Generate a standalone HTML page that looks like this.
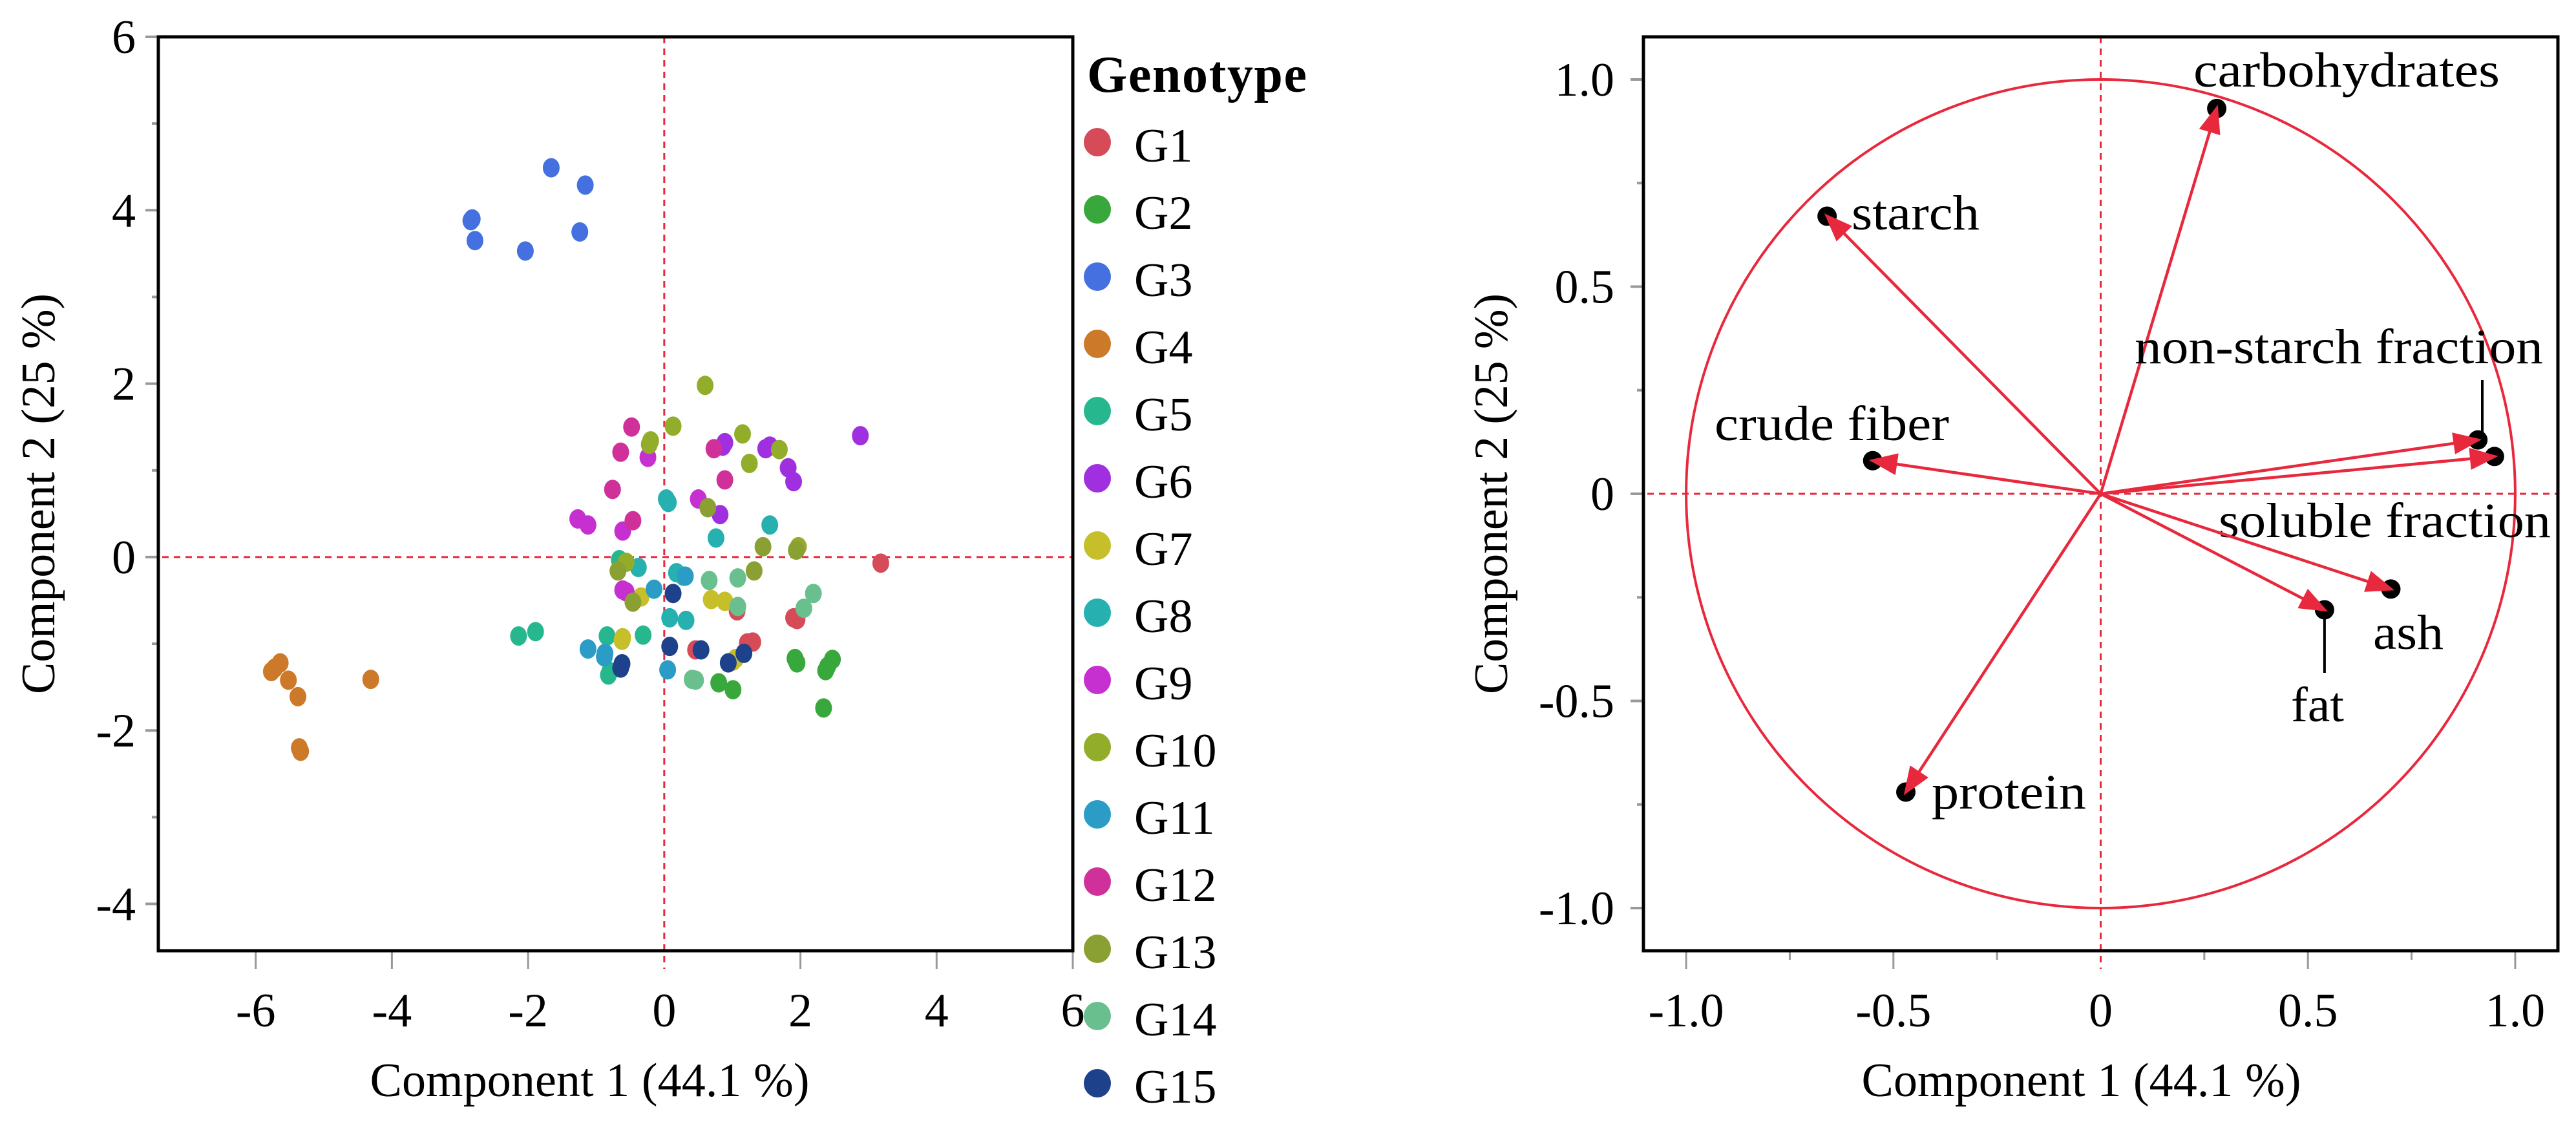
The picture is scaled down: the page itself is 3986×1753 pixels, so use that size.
<!DOCTYPE html>
<html><head><meta charset="utf-8"><style>
html,body{margin:0;padding:0;background:#fff}
svg{display:block}
text{font-family:"Liberation Serif",serif;fill:#000}
</style></head><body>
<svg id="fig" width="3986" height="1753" viewBox="0 0 3986 1753" xmlns="http://www.w3.org/2000/svg">
<g id="left"></g>
<g id="right"></g>
</svg>
<script>
const NS="http://www.w3.org/2000/svg";
// ---- Score plot data ----
const genotypes=["G1","G2","G3","G4","G5","G6","G7","G8","G9","G10","G11","G12","G13","G14","G15"];
const genoColors=["#d64b58","#38a83c","#4470e0","#cc7a2a","#27b78f","#a02fe0","#c6bf2a","#27b0b0","#c630d0","#92ad2a","#2a9cc6","#d0309a","#8aa032","#69c08e","#1d418a"];
const scoreX=[
[3.18,1.90,1.95,1.22,1.30,0.46,1.07],
[1.92,2.37,2.47,2.34,0.80,1.01,1.95,2.40],
[-2.84,-2.78,-2.04,-1.66,-1.16,-1.24,-2.82],
[-5.77,-5.64,-5.52,-5.38,-5.34,-4.31,-5.72,-5.36],
[-2.14,-1.89,-0.84,-0.31,-0.82,-0.66,-0.80],
[2.88,1.82,1.90,0.89,1.49,1.55,0.82,0.86],
[-0.61,-0.34,0.69,0.89,1.01,-0.62,1.05],
[0.03,1.55,0.76,0.08,0.32,-0.38,0.18,0.06,0.28],
[-1.27,-1.12,-0.61,-0.61,-0.24,0.50,-0.56],
[0.60,0.13,-0.20,1.15,1.69,1.25,1.97,-0.56,-0.22],
[-1.12,-0.87,-0.15,0.31,0.05,-0.88],
[-0.48,-0.64,-0.76,-0.46,0.73,0.89],
[-0.68,-0.46,0.64,1.45,1.32,1.94],
[0.66,1.08,1.08,2.19,2.05,0.41,0.46],
[0.13,0.08,-0.64,0.54,1.17,0.94,-0.62]];
const scoreY=[
[-0.07,-0.70,-0.72,-0.99,-0.98,-1.07,-0.62],
[-1.17,-1.31,-1.18,-1.74,-1.45,-1.53,-1.22,-1.26],
[3.88,3.65,3.53,4.49,4.29,3.75,3.90],
[-1.32,-1.22,-1.42,-1.61,-2.24,-1.41,-1.28,-2.20],
[-0.91,-0.86,-0.91,-0.90,-1.36,-0.03,-1.32],
[1.40,1.03,0.87,1.32,1.25,1.28,0.49,1.28],
[-0.93,-0.46,-0.49,-0.51,-1.20,-0.96,-1.17],
[0.67,0.37,0.22,-0.70,-0.73,-0.12,-0.18,0.63,-0.22],
[0.44,0.37,0.30,-0.38,1.15,0.67,-0.40],
[1.98,1.51,1.34,1.42,1.24,1.08,0.12,-0.06,1.30],
[-1.06,-1.11,-0.37,-0.22,-1.30,-1.15],
[1.50,1.21,0.78,0.42,1.25,0.89],
[-0.16,-0.52,0.57,0.12,-0.16,0.08],
[-0.27,-0.24,-0.57,-0.42,-0.59,-1.41,-1.42],
[-0.42,-1.03,-1.28,-1.07,-1.11,-1.22,-1.23]];
const leftXTicks=[-6,-4,-2,0,2,4,6];
const leftYTicks=[-4,-2,0,2,4,6];
const leftYMinor=[-3,-1,1,3,5];
// ---- Loading plot data ----
const varNames=["carbohydrates","starch","non-starch fraction","crude fiber","soluble fraction","ash","fat","protein"];
const loadX=[0.28,-0.66,0.91,-0.55,0.95,0.70,0.54,-0.47];
const loadY=[0.93,0.67,0.13,0.08,0.09,-0.23,-0.28,-0.72];
const rightTicks=[-1.0,-0.5,0,0.5,1.0];
const rightTickLabels=["-1.0","-0.5","0","0.5","1.0"];
const rightMinor=[-0.75,-0.25,0.25,0.75];

function el(tag,attrs,parent,txt){const e=document.createElementNS(NS,tag);for(const k in attrs)e.setAttribute(k,attrs[k]);if(txt!==undefined)e.textContent=txt;parent.appendChild(e);return e;}
const FS=74;

// ===== LEFT =====
const L=document.getElementById('left');
const LB={x0:245,x1:1660,y0:57,y1:1471},LX=[-7.43,6.0],LY=[-4.54,6.0];
const lx=v=>LB.x0+(v-LX[0])/(LX[1]-LX[0])*(LB.x1-LB.x0);
const ly=v=>LB.y1-(v-LY[0])/(LY[1]-LY[0])*(LB.y1-LB.y0);
let r;
r=el('line',{x1:lx(0),x2:lx(0),y1:LB.y0,y2:LB.y1+28,stroke:'#e8283c','stroke-width':3,'stroke-dasharray':'10 8'},L);

r=el('line',{x1:LB.x0-12,x2:LB.x1,y1:ly(0),y2:ly(0),stroke:'#e8283c','stroke-width':3,'stroke-dasharray':'10 8'},L);

leftXTicks.forEach(t=>{
  if(t!==0){const tk=el('line',{x1:lx(t),x2:lx(t),y1:LB.y1,y2:LB.y1+28,stroke:'#999','stroke-width':3},L);
  }
  const tl=el('text',{x:lx(t),y:1588,'text-anchor':'middle','font-size':FS},L,String(t));
  
});
leftYTicks.forEach(t=>{
  const tk=el('line',{x1:LB.x0-20,x2:LB.x0,y1:ly(t),y2:ly(t),stroke:'#999','stroke-width':4},L);
  
  const tl=el('text',{x:210,y:ly(t)+25,'text-anchor':'end','font-size':FS},L,String(t));
  
});
leftYMinor.forEach(t=>{
  const tk=el('line',{x1:LB.x0-10,x2:LB.x0,y1:ly(t),y2:ly(t),stroke:'#999','stroke-width':4},L);
  
});
genotypes.forEach((g,i)=>{
  const grp=el('g',{},L);
  
  scoreX[i].forEach((xv,j)=>{
    const p=el('ellipse',{cx:lx(xv),cy:ly(scoreY[i][j]),rx:13,ry:15,fill:genoColors[i]},grp);
    
  });
});
r=el('rect',{x:LB.x0,y:LB.y0,width:LB.x1-LB.x0,height:LB.y1-LB.y0,fill:'none',stroke:'#000','stroke-width':5},L);

r=el('text',{x:(LB.x0+LB.x1)/2-40,y:1696,'text-anchor':'middle','font-size':FS,textLength:680},L,'Component 1  (44.1 %)');

r=el('text',{x:0,y:0,'text-anchor':'middle','font-size':FS,textLength:620,transform:'translate(84,764) rotate(-90)'},L,'Component 2  (25 %)');

r=el('text',{x:1682,y:142,'font-size':80,'font-weight':'bold',textLength:340},L,'Genotype');

genotypes.forEach((g,i)=>{
  const yy=220+i*104;
  const eg=el('g',{},L);
  
  const c=el('ellipse',{cx:1698,cy:yy,rx:21,ry:22,fill:genoColors[i]},eg);
  
  const t=el('text',{x:1755,y:yy+30,'font-size':FS},eg,g);
  
});

// ===== RIGHT =====
const R=document.getElementById('right');
const RB={x0:2543,x1:3958,y0:57,y1:1471},RD=[-1.103,1.103];
const rx=v=>RB.x0+(v-RD[0])/(RD[1]-RD[0])*(RB.x1-RB.x0);
const ry=v=>RB.y1-(v-RD[0])/(RD[1]-RD[0])*(RB.y1-RB.y0);
r=el('line',{x1:rx(0),x2:rx(0),y1:RB.y0,y2:RB.y1+28,stroke:'#e8283c','stroke-width':3,'stroke-dasharray':'10 8'},R);

r=el('line',{x1:RB.x0-12,x2:RB.x1,y1:ry(0),y2:ry(0),stroke:'#e8283c','stroke-width':3,'stroke-dasharray':'10 8'},R);

rightTicks.forEach((t,i)=>{
  if(t!==0){const tk=el('line',{x1:rx(t),x2:rx(t),y1:RB.y1,y2:RB.y1+28,stroke:'#999','stroke-width':3},R);
  }
  const tl=el('text',{x:rx(t),y:1588,'text-anchor':'middle','font-size':FS},R,rightTickLabels[i]);
  
  const tk2=el('line',{x1:RB.x0-20,x2:RB.x0,y1:ry(t),y2:ry(t),stroke:'#999','stroke-width':4},R);
  
  const tl2=el('text',{x:2498,y:ry(t)+25,'text-anchor':'end','font-size':FS},R,rightTickLabels[i]);
  
});
rightMinor.forEach(t=>{
  const a=el('line',{x1:rx(t),x2:rx(t),y1:RB.y1,y2:RB.y1+14,stroke:'#999','stroke-width':3},R);
  
  const b=el('line',{x1:RB.x0-10,x2:RB.x0,y1:ry(t),y2:ry(t),stroke:'#999','stroke-width':4},R);
  
});
r=el('ellipse',{cx:rx(0),cy:ry(0),rx:rx(1)-rx(0),ry:ry(0)-ry(1),fill:'none',stroke:'#e8283c','stroke-width':4},R);

const labelPos=[[3394,134],[2865,355],[3303,562],[2653,681],[3433,831],[3672,1004],[3545,1116],[2989,1251]];
const labelLen=[474,198,632,363,514,109,82,239];
varNames.forEach((n,i)=>{
  const g=el('g',{},R);
  
  const x0=rx(0),y0=ry(0),x1=rx(loadX[i]),y1=ry(loadY[i]);
  const dx=x1-x0,dy=y1-y0,len=Math.hypot(dx,dy),ux=dx/len,uy=dy/len;
  const dot=el('circle',{cx:x1,cy:y1,r:15,fill:'#000'},g);
  
  const tipx=x1+ux*6,tipy=y1+uy*6,bx=tipx-ux*44,by=tipy-uy*44;
  const ln=el('line',{x1:x0,y1:y0,x2:bx+ux*4,y2:by+uy*4,stroke:'#e8283c','stroke-width':4.5},g);
  
  const hd=el('polygon',{points:`${tipx},${tipy} ${bx-uy*17},${by+ux*17} ${bx+uy*17},${by-ux*17}`,fill:'#e8283c'},g);
  
  const t=el('text',{x:labelPos[i][0],y:labelPos[i][1],'font-size':76,textLength:labelLen[i],lengthAdjust:'spacingAndGlyphs'},g,n);
  
});
r=el('line',{x1:3841,x2:3841,y1:588,y2:680,stroke:'#000','stroke-width':4},R);

r=el('line',{x1:rx(0.54),x2:rx(0.54),y1:ry(-0.28)+14,y2:1041,stroke:'#000','stroke-width':4},R);

r=el('rect',{x:RB.x0,y:RB.y0,width:RB.x1-RB.x0,height:RB.y1-RB.y0,fill:'none',stroke:'#000','stroke-width':5},R);

r=el('text',{x:rx(0)-30,y:1696,'text-anchor':'middle','font-size':FS,textLength:680},R,'Component 1  (44.1 %)');

r=el('text',{x:0,y:0,'text-anchor':'middle','font-size':FS,textLength:620,transform:'translate(2332,764) rotate(-90)'},R,'Component 2  (25 %)');

</script>
</body></html>
